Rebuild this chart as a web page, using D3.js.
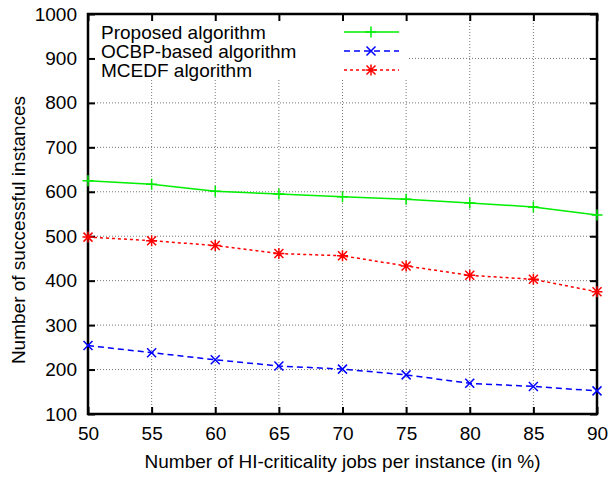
<!DOCTYPE html>
<html>
<head>
<meta charset="utf-8">
<script src="https://cdn.jsdelivr.net/npm/d3@7"></script>
<style>
  body { margin: 0; background: #fff; }
  svg text { font-family: "Liberation Sans", Arial, sans-serif; fill: #000; }
</style>
</head>
<body>
<div id="chart"></div>
<script>
// chart data
const percents = [50, 55, 60, 65, 70, 75, 80, 85, 90];
const proposed = [625, 617, 601, 595, 589, 583, 575, 566, 548];
const ocbp = [254, 238, 222, 208, 201, 188, 169, 162, 152];
const mcedf = [498, 490, 479, 461, 456, 433, 412, 403, 375];
const yTicks = [100, 200, 300, 400, 500, 600, 700, 800, 900, 1000];
const seriesNames = ['Proposed algorithm', 'OCBP-based algorithm', 'MCEDF algorithm'];

const WIDTH = 611;
const HEIGHT = 477;
const MARGINS = {left: 88, right: 14, top: 14, bottom: 63};
const VIS_WIDTH = WIDTH - MARGINS.left - MARGINS.right;
const VIS_HEIGHT = HEIGHT - MARGINS.top - MARGINS.bottom;
const FONT = 19;

const svg = d3.select('#chart')
    .append('svg')
        .attr('width', WIDTH)
        .attr('height', HEIGHT);

const X_SCALE = d3.scaleLinear()
    .domain([50, 90])
    .range([0, VIS_WIDTH]);

const Y_SCALE = d3.scaleLinear()
    .domain([100, 1000])
    .range([VIS_HEIGHT, 0]);

const plot = svg.append('g')
    .attr('transform', 'translate(' + MARGINS.left + ',' + MARGINS.top + ')');

// grid lines (dotted)
plot.append('g')
    .selectAll('line')
    .data(percents.slice(1, -1))
    .enter()
    .append('line')
    .attr('x1', d => X_SCALE(d))
    .attr('x2', d => X_SCALE(d))
    .attr('y1', 0)
    .attr('y2', VIS_HEIGHT)
    .attr('stroke', '#777')
    .attr('stroke-width', 1)
    .attr('stroke-dasharray', '1,2');

plot.append('g')
    .selectAll('line')
    .data(yTicks.slice(1, -1))
    .enter()
    .append('line')
    .attr('x1', 0)
    .attr('x2', VIS_WIDTH)
    .attr('y1', d => Y_SCALE(d))
    .attr('y2', d => Y_SCALE(d))
    .attr('stroke', '#777')
    .attr('stroke-width', 1)
    .attr('stroke-dasharray', '1,2');

// legend background hides the grid behind it
plot.append('rect')
    .attr('x', 0)
    .attr('y', 0)
    .attr('width', 320)
    .attr('height', 66)
    .attr('fill', '#fff');

// axes with inward ticks on all four sides
const TICK = 7;
plot.append('g')
    .attr('transform', 'translate(0,' + VIS_HEIGHT + ')')
    .call(d3.axisBottom(X_SCALE).tickValues(percents).tickFormat(d3.format('d'))
        .tickSizeInner(-TICK).tickSizeOuter(0).tickPadding(13));
plot.append('g')
    .call(d3.axisTop(X_SCALE).tickValues(percents).tickSizeInner(-TICK).tickSizeOuter(0).tickFormat(''));
plot.append('g')
    .call(d3.axisLeft(Y_SCALE).tickValues(yTicks).tickFormat(d3.format('d'))
        .tickSizeInner(-TICK).tickSizeOuter(0).tickPadding(11));
plot.append('g')
    .attr('transform', 'translate(' + VIS_WIDTH + ',0)')
    .call(d3.axisRight(Y_SCALE).tickValues(yTicks).tickSizeInner(-TICK).tickSizeOuter(0).tickFormat(''));

plot.selectAll('.domain').remove();
plot.selectAll('.tick line').attr('stroke', '#000').attr('stroke-width', 2);
plot.selectAll('.tick text').attr('font-size', FONT).attr('font-family', '"Liberation Sans", Arial, sans-serif');

// frame
plot.append('rect')
    .attr('x', 0)
    .attr('y', 0)
    .attr('width', VIS_WIDTH)
    .attr('height', VIS_HEIGHT)
    .attr('fill', 'none')
    .attr('stroke', '#000')
    .attr('stroke-width', 2.5);

// series
const series = [
    {name: seriesNames[0], values: proposed, color: '#00ee00', dash: null, marker: 'plus'},
    {name: seriesNames[1], values: ocbp, color: '#0000ff', dash: '6,4', marker: 'cross'},
    {name: seriesNames[2], values: mcedf, color: '#ff0000', dash: '3,3', marker: 'star'}
];

const line = d3.line()
    .x((d, i) => X_SCALE(percents[i]))
    .y(d => Y_SCALE(d));

function markerPath(type, cx, cy) {
    const s = 5.5;
    const plus = 'M' + (cx - s) + ',' + cy + 'L' + (cx + s) + ',' + cy +
                 'M' + cx + ',' + (cy - s) + 'L' + cx + ',' + (cy + s);
    const k = 4.5;
    const cross = 'M' + (cx - k) + ',' + (cy - k) + 'L' + (cx + k) + ',' + (cy + k) +
                  'M' + (cx - k) + ',' + (cy + k) + 'L' + (cx + k) + ',' + (cy - k);
    if (type === 'plus') return plus;
    if (type === 'cross') return cross;
    return plus + cross;
}

series.forEach((s, idx) => {
    plot.append('path')
        .datum(s.values)
        .attr('d', line)
        .attr('fill', 'none')
        .attr('stroke', s.color)
        .attr('stroke-width', 1.5)
        .attr('stroke-dasharray', s.dash);

    plot.selectAll('.m' + idx)
        .data(s.values)
        .enter()
        .append('path')
        .attr('class', 'm' + idx)
        .attr('d', (d, i) => markerPath(s.marker, X_SCALE(percents[i]), Y_SCALE(d)))
        .attr('fill', 'none')
        .attr('stroke', s.color)
        .attr('stroke-width', 1.5);

    // legend entry
    const ly = 18 + idx * 19;
    plot.append('text')
        .attr('x', 13)
        .attr('y', ly)
        .attr('dy', '0.35em')
        .attr('font-size', FONT)
        .text(s.name);
    plot.append('line')
        .attr('x1', 256)
        .attr('x2', 311)
        .attr('y1', ly)
        .attr('y2', ly)
        .attr('stroke', s.color)
        .attr('stroke-width', 1.5)
        .attr('stroke-dasharray', s.dash);
    plot.append('path')
        .attr('d', markerPath(s.marker, 283, ly))
        .attr('fill', 'none')
        .attr('stroke', s.color)
        .attr('stroke-width', 1.5);
});

// axis titles
svg.append('text')
    .attr('x', MARGINS.left + VIS_WIDTH / 2)
    .attr('y', 468)
    .attr('text-anchor', 'middle')
    .attr('font-size', FONT)
    .text('Number of HI-criticality jobs per instance (in %)');

svg.append('text')
    .attr('transform', 'translate(25,' + (MARGINS.top + VIS_HEIGHT / 2 + 16) + ') rotate(-90)')
    .attr('text-anchor', 'middle')
    .attr('font-size', FONT)
    .text('Number of successful instances');
</script>
</body>
</html>
